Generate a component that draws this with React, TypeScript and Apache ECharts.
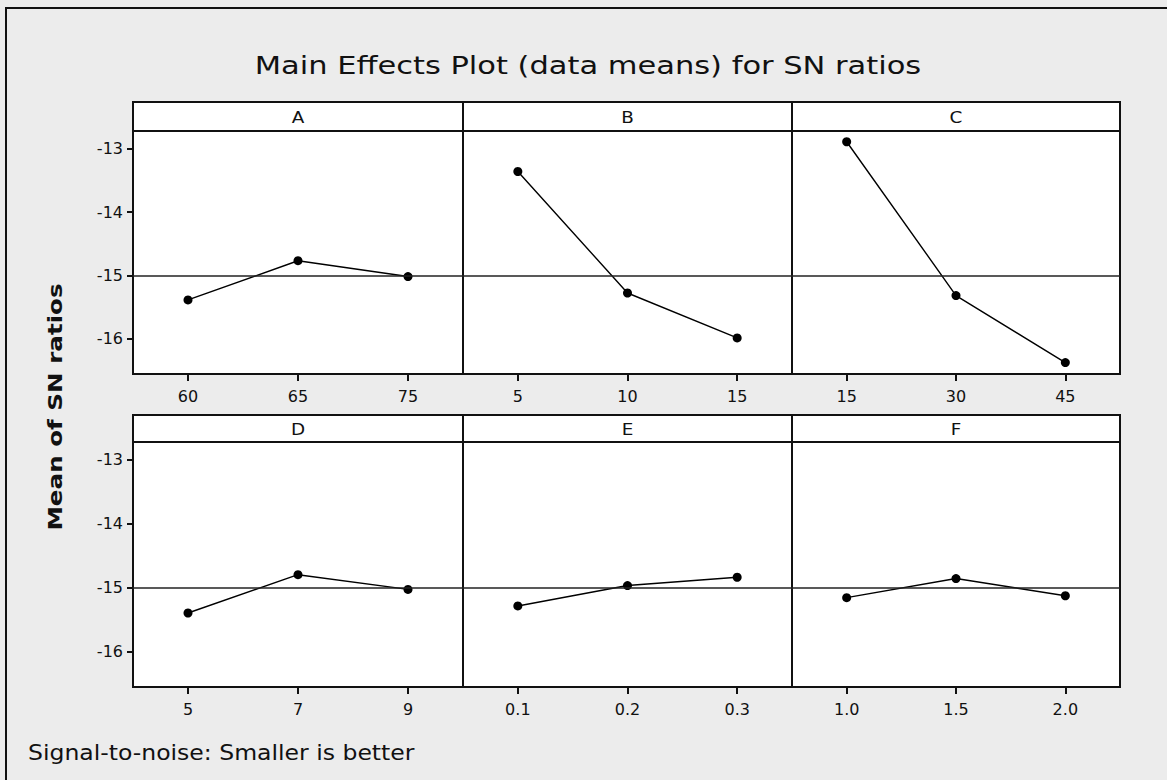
import React, { useEffect, useRef } from "react";
import * as echarts from "echarts";

const TITLE = "Main Effects Plot (data means) for SN ratios";
const Y_LABEL = "Mean of SN ratios";
const FOOTNOTE = "Signal-to-noise: Smaller is better";

const factors = ["A", "B", "C", "D", "E", "F"];
const levelsA = ["60", "65", "75"];
const levelsB = ["5", "10", "15"];
const levelsC = ["15", "30", "45"];
const levelsD = ["5", "7", "9"];
const levelsE = ["0.1", "0.2", "0.3"];
const levelsF = ["1.0", "1.5", "2.0"];

const snA = [-15.39, -14.77, -15.02];
const snB = [-13.36, -15.28, -15.99];
const snC = [-12.89, -15.32, -16.38];
const snD = [-15.4, -14.8, -15.03];
const snE = [-15.29, -14.97, -14.84];
const snF = [-15.16, -14.86, -15.13];

const yTicks = [-16, -15, -14, -13];
const overallMean = -15.0;

const levels = [levelsA, levelsB, levelsC, levelsD, levelsE, levelsF];
const values = [snA, snB, snC, snD, snE, snF];

const FONT = "DejaVu Sans";

export default function App() {
  const ref = useRef<HTMLDivElement>(null);

  useEffect(() => {
    if (!ref.current) return;
    const chart = echarts.init(ref.current, null, { renderer: "svg" });

    const colX = [133, 463, 792];
    const colW = [330, 329, 328];
    const rowTop = [131, 442];
    const rowH = [243, 245];
    const headTop = [102, 415];
    const yMin = -16.56;
    const yMax = -12.72;

    const grids: any[] = [];
    const xAxes: any[] = [];
    const yAxes: any[] = [];
    const series: any[] = [];
    const graphics: any[] = [];

    factors.forEach((f, i) => {
      const r = Math.floor(i / 3);
      const c = i % 3;
      grids.push({
        left: colX[c],
        top: rowTop[r],
        width: colW[c],
        height: rowH[r],
        show: true,
        backgroundColor: "#ffffff",
        borderColor: "#111111",
        borderWidth: 2,
      });
      xAxes.push({
        type: "category",
        gridIndex: i,
        data: levels[i],
        boundaryGap: true,
        axisLine: { show: false },
        axisTick: {
          show: true,
          alignWithLabel: true,
          length: 7,
          lineStyle: { color: "#111", width: 2 },
        },
        axisLabel: {
          margin: 14,
          fontFamily: FONT,
          fontSize: 16,
          color: "#111",
        },
        splitLine: { show: false },
      });
      yAxes.push({
        type: "value",
        gridIndex: i,
        min: yMin,
        max: yMax,
        axisLine: { show: false },
        axisTick: {
          show: c === 0,
          length: 6,
          customValues: yTicks,
          lineStyle: { color: "#111", width: 2 },
        },
        axisLabel: {
          show: c === 0,
          customValues: yTicks,
          margin: 10,
          fontFamily: FONT,
          fontSize: 16,
          color: "#111",
        },
        splitLine: { show: false },
      });
      series.push({
        type: "line",
        xAxisIndex: i,
        yAxisIndex: i,
        data: values[i],
        symbol: "circle",
        symbolSize: 9,
        itemStyle: { color: "#000" },
        lineStyle: { color: "#000", width: 1.4 },
        markLine: {
          silent: true,
          symbol: "none",
          label: { show: false },
          lineStyle: { color: "#222", width: 1.5, type: "solid" },
          data: [{ yAxis: overallMean }],
        },
      });
      graphics.push({
        type: "rect",
        shape: {
          x: colX[c],
          y: headTop[r],
          width: colW[c],
          height: rowTop[r] - headTop[r],
        },
        style: { fill: "#ffffff", stroke: "#111111", lineWidth: 2 },
        z: 10,
      });
      graphics.push({
        type: "text",
        x: colX[c] + colW[c] / 2,
        y: (headTop[r] + rowTop[r]) / 2 + 1,
        scaleX: 1.15,
        style: {
          text: f,
          fontFamily: FONT,
          fontSize: 16,
          fill: "#111",
          align: "center",
          verticalAlign: "middle",
        },
        z: 11,
      });
    });

    graphics.push(
      {
        type: "line",
        shape: { x1: 5, y1: 8, x2: 1167, y2: 8 },
        style: { stroke: "#111", lineWidth: 2 },
      },
      {
        type: "line",
        shape: { x1: 6, y1: 8, x2: 6, y2: 780 },
        style: { stroke: "#111", lineWidth: 2 },
      },
      {
        type: "text",
        x: 588,
        y: 66,
        scaleX: 1.27,
        style: {
          text: TITLE,
          fontFamily: FONT,
          fontSize: 24,
          fill: "#111",
          align: "center",
          verticalAlign: "middle",
        },
      },
      {
        type: "text",
        x: 55,
        y: 407,
        rotation: Math.PI / 2,
        scaleX: 1.23,
        style: {
          text: Y_LABEL,
          fontFamily: FONT,
          fontSize: 20,
          fontWeight: "bold",
          fill: "#111",
          align: "center",
          verticalAlign: "middle",
        },
      },
      {
        type: "text",
        x: 28,
        y: 752,
        scaleX: 1.07,
        style: {
          text: FOOTNOTE,
          fontFamily: FONT,
          fontSize: 22,
          fill: "#111",
          align: "left",
          verticalAlign: "middle",
        },
      }
    );

    chart.setOption({
      animation: false,
      backgroundColor: "#ececec",
      grid: grids,
      xAxis: xAxes,
      yAxis: yAxes,
      series,
      graphic: graphics,
    });

    return () => chart.dispose();
  }, []);

  return (
    <div
      ref={ref}
      style={{ position: "fixed", left: 0, top: 0, width: 1167, height: 780 }}
    />
  );
}
